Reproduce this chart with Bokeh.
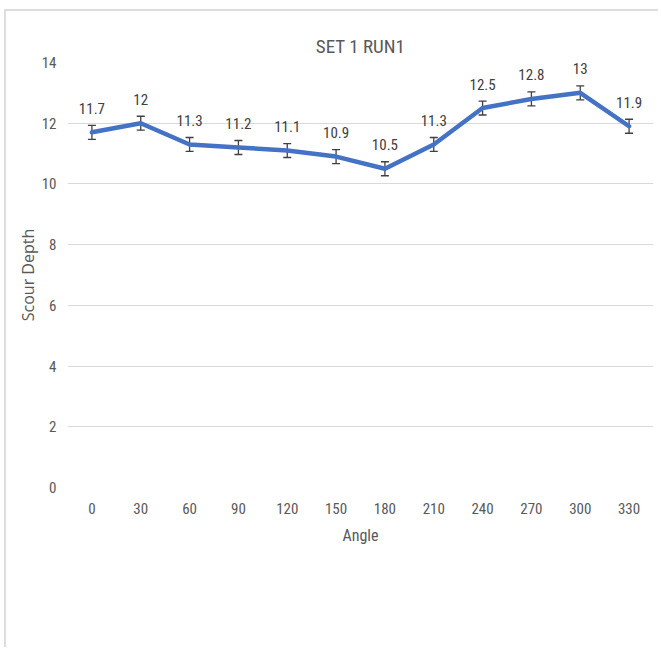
from bokeh.plotting import figure
from bokeh.models import ColumnDataSource, Whisker, TeeHead, Range1d, FixedTicker
from bokeh.core.properties import value
from bokeh.embed import file_html
from bokeh.resources import INLINE

angles = ["0", "30", "60", "90", "120", "150", "180", "210", "240", "270", "300", "330"]
depth = [11.7, 12.0, 11.3, 11.2, 11.1, 10.9, 10.5, 11.3, 12.5, 12.8, 13.0, 11.9]
err = [0.23] * 12
labels = ["11.7", "12", "11.3", "11.2", "11.1", "10.9", "10.5", "11.3", "12.5", "12.8", "13", "11.9"]
y_ticks = [0, 2, 4, 6, 8, 10, 12, 14]

FONT = "Roboto Condensed"
TXT = "#595959"

src = ColumnDataSource(dict(
    x=angles, y=depth, lab=labels,
    up=[d + e for d, e in zip(depth, err)],
    lo=[d - e for d, e in zip(depth, err)],
))

p = figure(x_range=angles, y_range=Range1d(0, 14), width=654, height=638,
           output_backend="svg", toolbar_location=None,
           min_border_left=61, min_border_right=7, min_border_top=51, min_border_bottom=162,
           title="SET 1 RUN1")
p.styles = {"margin-left": "4px", "margin-top": "9px",
            "border-left": "2px solid #dddddd", "border-top": "2px solid #dddddd"}
p.outline_line_color = None
p.background_fill_color = "white"
p.border_fill_color = "white"

p.title.align = "center"
p.title.text_font = FONT
p.title.text_font_size = "19px"
p.title.text_font_style = "normal"
p.title.text_color = TXT
p.title.standoff = 10

p.xgrid.grid_line_color = None
p.ygrid.grid_line_color = "#d9d9d9"
p.ygrid.grid_line_width = 1.2
p.yaxis.ticker = FixedTicker(ticks=y_ticks)

for ax in (p.xaxis[0], p.yaxis[0]):
    ax.axis_line_color = None
    ax.major_tick_line_color = None
    ax.minor_tick_line_color = None
    ax.major_tick_out = 0
    ax.major_tick_in = 0
    ax.major_label_text_font = FONT
    ax.major_label_text_font_size = "15px"
    ax.major_label_text_color = TXT
    ax.axis_label_text_font_style = "normal"
    ax.axis_label_text_color = TXT

p.xaxis.axis_label = "Angle"
p.xaxis.axis_label_text_font = FONT
p.xaxis.axis_label_text_font_size = "16px"
p.yaxis.axis_label = "Scour Depth"
p.yaxis.axis_label_text_font = "Open Sans"
p.yaxis.axis_label_text_font_size = "16px"
p.xaxis.major_label_standoff = 15
p.xaxis.axis_label_standoff = 9
p.yaxis.major_label_standoff = 11
p.yaxis.axis_label_standoff = 0
p.x_range.range_padding = 0

p.line(x="x", y="y", source=src, line_width=4.5, line_color="#4472C4",
       line_join="round", line_cap="round")

w = Whisker(source=src, base="x", upper="up", lower="lo", line_color="#404040", line_width=1.3,
            upper_head=TeeHead(size=8, line_color="#404040", line_width=1.3),
            lower_head=TeeHead(size=8, line_color="#404040", line_width=1.3))
p.add_layout(w)

p.text(x="x", y="y", text="lab", source=src, y_offset=-24, text_align="center",
       text_baseline="middle", text_font=value(FONT), text_font_size="15px", text_color="#404040")

open("out.html", "w").write(file_html(p, INLINE))
